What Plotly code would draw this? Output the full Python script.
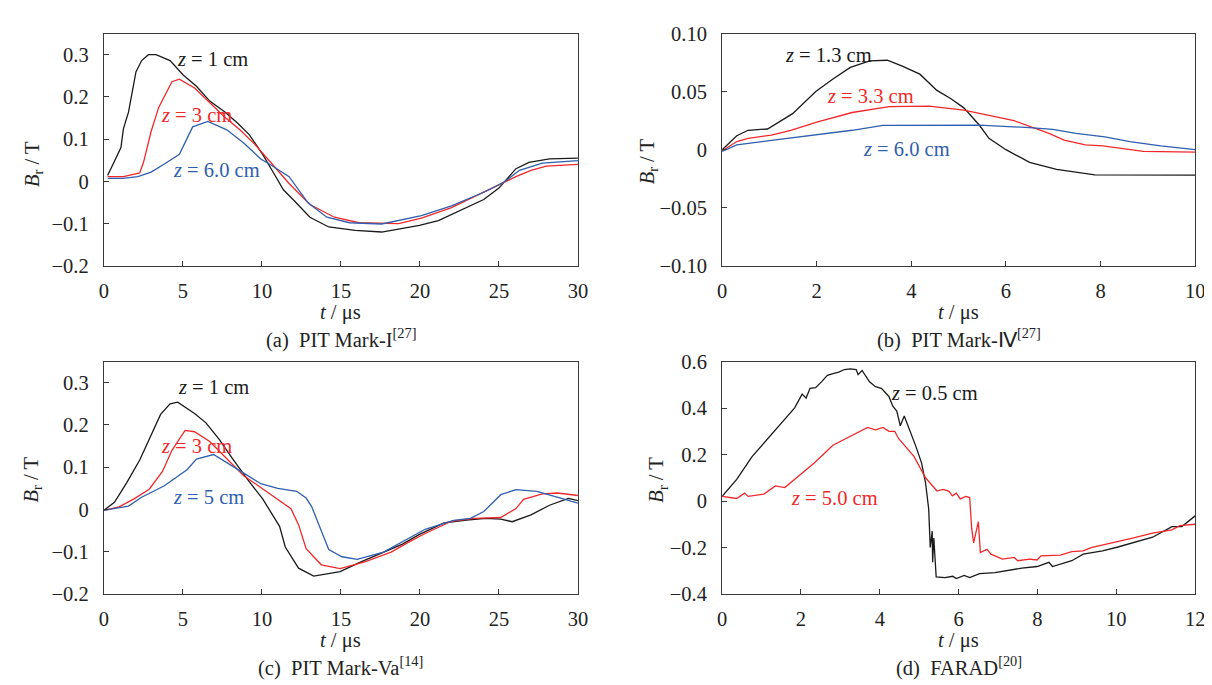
import plotly.graph_objects as go

W, H = 1212, 685

# ---------------- data ----------------
# (a) PIT Mark-I
a_black_t = [0.24, 0.67, 1.08, 1.24, 1.56, 2.03, 2.39, 2.82, 3.30, 4.19, 5.02, 5.86, 6.70, 7.66, 8.49, 9.21, 10.05, 10.77, 11.36, 12.08, 13.04, 14.23, 15.9, 17.58, 18.9, 19.97, 21.17, 22.49, 24.04, 25.0, 26.08, 26.9, 28.2, 30.0]
a_black_b = [0.014, 0.049, 0.080, 0.125, 0.164, 0.259, 0.286, 0.300, 0.300, 0.286, 0.252, 0.225, 0.190, 0.164, 0.137, 0.110, 0.064, 0.018, -0.020, -0.047, -0.085, -0.108, -0.116, -0.120, -0.112, -0.104, -0.093, -0.070, -0.043, -0.016, 0.030, 0.045, 0.053, 0.055]
a_red_t = [0.24, 1.24, 2.27, 2.51, 2.99, 3.47, 4.31, 4.78, 5.74, 6.70, 7.66, 8.61, 9.57, 10.65, 11.72, 13.04, 14.59, 16.15, 18.66, 20.1, 22.0, 23.9, 25.36, 26.08, 27.03, 28.0, 30.0]
a_red_b = [0.011, 0.011, 0.020, 0.045, 0.118, 0.175, 0.236, 0.242, 0.221, 0.187, 0.152, 0.122, 0.087, 0.041, -0.005, -0.055, -0.085, -0.098, -0.100, -0.087, -0.062, -0.028, -0.001, 0.011, 0.026, 0.036, 0.040]
a_blue_t = [0.24, 1.2, 2.15, 2.99, 3.83, 4.78, 5.62, 6.58, 7.78, 8.85, 9.93, 10.65, 11.72, 12.92, 14.11, 15.55, 17.58, 20.1, 22.0, 24.16, 25.36, 26.3, 27.75, 30.0]
a_blue_b = [0.007, 0.007, 0.011, 0.022, 0.041, 0.064, 0.129, 0.142, 0.122, 0.091, 0.053, 0.037, 0.011, -0.051, -0.085, -0.098, -0.101, -0.081, -0.058, -0.024, -0.001, 0.026, 0.043, 0.049]

# (b) PIT Mark-IV
b_black_t = [0.0, 0.31, 0.55, 0.96, 1.49, 1.98, 2.35, 2.71, 3.12, 3.49, 3.81, 4.18, 4.54, 4.83, 5.11, 5.44, 5.64, 6.0, 6.5, 7.07, 7.88, 8.94, 10.0]
b_black_b = [0.0, 0.012, 0.0167, 0.0178, 0.031, 0.050, 0.061, 0.0708, 0.0764, 0.077, 0.072, 0.065, 0.051, 0.044, 0.036, 0.021, 0.0097, 0.0, -0.011, -0.017, -0.0217, -0.022, -0.022]
b_red_t = [0.0, 0.31, 0.55, 1.04, 1.45, 2.02, 2.75, 3.53, 4.38, 5.11, 6.17, 6.5, 6.91, 7.23, 7.68, 8.05, 8.9, 10.0]
b_red_b = [-0.001, 0.007, 0.0097, 0.0125, 0.0167, 0.024, 0.032, 0.037, 0.0375, 0.034, 0.025, 0.020, 0.014, 0.0083, 0.0042, 0.0033, -0.0014, -0.0022]
b_blue_t = [0.0, 0.31, 0.96, 1.94, 2.75, 3.4, 4.54, 5.44, 6.5, 6.99, 7.48, 8.09, 8.62, 9.27, 10.0]
b_blue_b = [-0.0014, 0.0042, 0.0075, 0.0125, 0.0167, 0.021, 0.021, 0.0211, 0.019, 0.0175, 0.014, 0.011, 0.007, 0.0033, 0.0]

# (c) PIT Mark-Va
c_black_t = [0.0, 0.67, 1.44, 2.27, 3.59, 4.19, 4.67, 5.74, 6.46, 7.3, 8.13, 9.09, 10.05, 11.12, 11.48, 12.32, 13.28, 14.95, 16.27, 17.7, 18.9, 19.97, 21.53, 22.97, 24.16, 25.12, 25.84, 27.03, 28.2, 29.4, 30.0]
c_black_b = [-0.002, 0.017, 0.063, 0.117, 0.225, 0.250, 0.254, 0.227, 0.205, 0.166, 0.121, 0.071, 0.025, -0.040, -0.089, -0.139, -0.158, -0.147, -0.124, -0.101, -0.082, -0.059, -0.032, -0.025, -0.021, -0.023, -0.029, -0.013, 0.010, 0.026, 0.021]
c_red_t = [0.0, 0.96, 1.91, 2.87, 3.71, 4.31, 5.14, 5.74, 6.7, 7.66, 8.85, 9.93, 11.12, 11.84, 12.32, 12.8, 13.76, 14.95, 16.51, 18.18, 19.26, 20.33, 22.0, 23.44, 25.12, 26.08, 26.56, 27.75, 28.7, 30.0]
c_red_b = [-0.002, 0.006, 0.025, 0.048, 0.090, 0.140, 0.187, 0.184, 0.161, 0.124, 0.080, 0.052, 0.021, 0.002, -0.036, -0.093, -0.131, -0.140, -0.124, -0.101, -0.078, -0.057, -0.028, -0.021, -0.019, 0.002, 0.024, 0.037, 0.039, 0.033]
c_blue_t = [0.0, 1.56, 2.39, 3.83, 5.26, 5.86, 6.94, 7.89, 8.85, 9.93, 11.0, 12.2, 12.8, 13.16, 14.23, 15.07, 16.03, 17.7, 19.02, 20.33, 22.13, 23.2, 24.04, 25.12, 26.08, 27.39, 28.35, 30.0]
c_blue_b = [-0.002, 0.008, 0.029, 0.056, 0.094, 0.119, 0.130, 0.109, 0.086, 0.061, 0.050, 0.043, 0.027, 0.006, -0.095, -0.112, -0.118, -0.101, -0.074, -0.047, -0.026, -0.021, -0.005, 0.035, 0.047, 0.043, 0.033, 0.015]

# (d) FARAD
d_black_t = [0.0, 0.37, 0.76, 1.15, 1.54, 1.84, 2.03, 2.13, 2.23, 2.37, 2.52, 2.67, 2.81, 2.96, 3.1, 3.25, 3.4, 3.45, 3.55, 3.74, 3.89, 4.04, 4.23, 4.33, 4.43, 4.52, 4.62, 4.77, 4.92, 5.06, 5.16, 5.24, 5.28, 5.33, 5.34, 5.37, 5.43, 5.65, 5.85, 5.94, 6.14, 6.28, 6.53, 6.92, 7.31, 7.6, 7.99, 8.29, 8.38, 8.87, 9.16, 9.65, 10.04, 10.53, 10.92, 11.41, 11.66, 12.0]
d_black_b = [0.02, 0.093, 0.191, 0.268, 0.345, 0.401, 0.46, 0.443, 0.485, 0.488, 0.513, 0.541, 0.548, 0.555, 0.566, 0.569, 0.566, 0.544, 0.562, 0.513, 0.492, 0.485, 0.45, 0.408, 0.387, 0.324, 0.366, 0.303, 0.233, 0.163, 0.078, -0.034, -0.2, -0.13, -0.264, -0.159, -0.327, -0.33, -0.324, -0.334, -0.32, -0.33, -0.313, -0.308, -0.296, -0.289, -0.282, -0.264, -0.282, -0.257, -0.229, -0.215, -0.198, -0.173, -0.156, -0.11, -0.11, -0.064]
d_red_t = [0.0, 0.37, 0.57, 0.66, 1.06, 1.35, 1.59, 2.33, 2.81, 3.69, 3.89, 4.08, 4.23, 4.38, 4.48, 4.87, 5.16, 5.45, 5.6, 5.75, 5.84, 5.94, 6.04, 6.18, 6.28, 6.33, 6.38, 6.45, 6.5, 6.55, 6.72, 6.82, 7.11, 7.41, 7.5, 7.8, 7.99, 8.09, 8.58, 8.87, 9.16, 9.36, 9.65, 10.04, 10.44, 10.92, 11.41, 11.61, 12.0]
d_red_b = [0.02, 0.011, 0.034, 0.02, 0.03, 0.065, 0.058, 0.163, 0.24, 0.317, 0.306, 0.317, 0.30, 0.30, 0.268, 0.191, 0.10, 0.043, 0.05, 0.043, 0.022, 0.034, 0.009, 0.02, 0.015, -0.117, -0.18, -0.131, -0.089, -0.222, -0.208, -0.229, -0.25, -0.243, -0.257, -0.25, -0.254, -0.236, -0.233, -0.218, -0.215, -0.201, -0.19, -0.173, -0.159, -0.138, -0.124, -0.106, -0.1]

captions = ["(a)  PIT Mark-I<sup>[27]</sup>", "(b)  PIT Mark-Ⅳ<sup>[27]</sup>",
            "(c)  PIT Mark-Va<sup>[14]</sup>", "(d)  FARAD<sup>[20]</sup>"]

# ---------------- styling ----------------
FONT = "Liberation Serif"
FS = 20.5
BLACK, RED, BLUE = "#1a1a1a", "#f0282a", "#2f5fae"
AXC = "#3a3a3a"

def px(x):
    return x / W

def py(y):
    return 1 - y / H

# panel pixel boxes: left, right, top, bottom
boxes = [(92, 572, 15, 255), (718, 1197, 15, 255),
         (92, 572, 354, 594), (718, 1197, 354, 594)]

fig = go.Figure()

series = [
    (1, [(a_black_t, a_black_b, BLACK), (a_red_t, a_red_b, RED), (a_blue_t, a_blue_b, BLUE)]),
    (2, [(b_black_t, b_black_b, BLACK), (b_red_t, b_red_b, RED), (b_blue_t, b_blue_b, BLUE)]),
    (3, [(c_black_t, c_black_b, BLACK), (c_red_t, c_red_b, RED), (c_blue_t, c_blue_b, BLUE)]),
    (4, [(d_black_t, d_black_b, BLACK), (d_red_t, d_red_b, RED)]),
]
for i, lst in series:
    xa = "x" if i == 1 else f"x{i}"
    ya = "y" if i == 1 else f"y{i}"
    for t, b, c in lst:
        fig.add_trace(go.Scatter(x=t, y=b, mode="lines", line=dict(color=c, width=1.3),
                                 xaxis=xa, yaxis=ya, showlegend=False, hoverinfo="skip"))

xranges = [[0, 30], [0, 10], [0, 30], [0, 12]]
xdt = [5, 2, 5, 2]
yranges = [[-0.2, 0.35], [-0.1, 0.1], [-0.2, 0.35], [-0.4, 0.6]]

layout = dict(width=W, height=H, margin=dict(l=0, r=0, t=0, b=0),
              paper_bgcolor="white", plot_bgcolor="white",
              font=dict(family=FONT, size=FS, color="#222"), showlegend=False)

for k in range(4):
    l, r, t, b = boxes[k]
    sx = "" if k == 0 else str(k + 1)
    common = dict(showline=True, linecolor=AXC, linewidth=1.2, mirror=True,
                  ticks="inside", ticklen=5, tickcolor=AXC, tickwidth=1,
                  showgrid=False, zeroline=False,
                  tickfont=dict(family=FONT, size=FS, color="#222"))
    xax = dict(common, domain=[px(l), px(r)], range=xranges[k], dtick=xdt[k], tick0=0,
               anchor="y" + sx, ticklabelstandoff=6)
    yax = dict(common, domain=[py(b), py(t)], range=yranges[k], anchor="x" + sx,
               ticklabelstandoff=10)
    if k == 0 or k == 2:
        yax.update(tickvals=[-0.2, -0.1, 0, 0.1, 0.2, 0.3],
                   ticktext=["−0.2", "−0.1", "0", "0.1", "0.2", "0.3"])
    elif k == 1:
        yax.update(tickvals=[-0.1, -0.05, 0, 0.05, 0.1],
                   ticktext=["−0.10", "−0.05", "0", "0.05", "0.10"])
    else:
        yax.update(tickvals=[-0.4, -0.2, 0, 0.2, 0.4, 0.6],
                   ticktext=["−0.4", "−0.2", "0", "0.2", "0.4", "0.6"])
    layout["xaxis" + sx] = xax
    layout["yaxis" + sx] = yax

fig.update_layout(**layout)

anns = []
def ann(text, x, y, color="#222", angle=0, xanchor="center"):
    anns.append(dict(text=text, x=px(x), y=py(y), xref="paper", yref="paper",
                     showarrow=False, textangle=angle, xanchor=xanchor, yanchor="middle",
                     font=dict(family=FONT, size=FS, color=color)))

# axis titles and captions
for k, (l, r, t, b) in enumerate(boxes):
    cx = (l + r) / 2
    ann("<i>t</i> / μs", cx, b + 48)
    ann(captions[k], cx, b + 75)
ann("<i>B</i><sub>r</sub> / T", 20, 150, angle=-90)
ann("<i>B</i><sub>r</sub> / T", 643, 147, angle=-90)
ann("<i>B</i><sub>r</sub> / T", 20, 476, angle=-90)
ann("<i>B</i><sub>r</sub> / T", 653, 476, angle=-90)
fig.update_layout(annotations=anns)

# curve labels (data coordinates)
def lab(text, x, y, color, i):
    fig.add_annotation(text=text, x=x, y=y, xref="x" if i == 1 else f"x{i}",
                       yref="y" if i == 1 else f"y{i}", showarrow=False, xanchor="left",
                       yanchor="middle", font=dict(family=FONT, size=FS, color=color))

lab("<i>z</i> = 1 cm", 4.5, 0.29, BLACK, 1)
lab("<i>z</i> = 3 cm", 3.47, 0.156, RED, 1)
lab("<i>z</i> = 6.0 cm", 4.26, 0.026, BLUE, 1)
lab("<i>z</i> = 1.3 cm", 1.29, 0.0814, BLACK, 2)
lab("<i>z</i> = 3.3 cm", 2.18, 0.0458, RED, 2)
lab("<i>z</i> = 6.0 cm", 2.94, 0.0008, BLUE, 2)
lab("<i>z</i> = 1 cm", 4.55, 0.289, BLACK, 3)
lab("<i>z</i> = 3 cm", 3.47, 0.151, RED, 3)
lab("<i>z</i> = 5 cm", 4.26, 0.029, BLUE, 3)
lab("<i>z</i> = 0.5 cm", 4.23, 0.464, BLACK, 4)
lab("<i>z</i> = 5.0 cm", 1.69, 0.012, RED, 4)

fig.write_html("out.html")
